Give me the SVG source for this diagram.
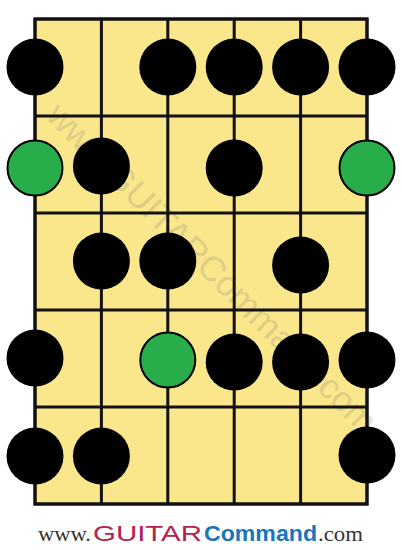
<svg xmlns="http://www.w3.org/2000/svg" width="402" height="550" viewBox="0 0 402 550">
<style>
.board{fill:#FAE78B;stroke:#111;stroke-width:3}
.ln{stroke:#111;stroke-width:3;fill:none}
.blk{fill:#000}
.grn{fill:#27AE4A;stroke:#000;stroke-width:2}
.wm{font-family:"Liberation Sans",Arial,sans-serif;font-size:35px;fill:#7a7a7a;opacity:0.22}
.ser{font-family:"Liberation Serif","Times New Roman",serif;font-size:22px;fill:#333}
.gt{font-family:"Liberation Sans",Arial,sans-serif;font-size:22px;fill:#B5234D}
.cm{font-family:"Liberation Sans",Arial,sans-serif;font-size:22px;font-weight:bold;fill:#1A75BB}
</style>
<rect width="402" height="550" fill="#fff"/>
<g id="board">
<rect class="board" x="35" y="19" width="332" height="485"/>
<text class="wm" transform="translate(212,268) rotate(45)" x="0" y="12" text-anchor="middle" textLength="450" lengthAdjust="spacingAndGlyphs">www.GUITARCommand.com</text>
</g>
<g id="grid">
<path class="ln" d="M101.4 19V504M167.8 19V504M234.2 19V504M300.6 19V504M35 116H367M35 213H367M35 310H367M35 407H367"/>
<rect class="ln" x="35" y="19" width="332" height="485"/>
</g>
<g id="notes">
<g id="r1">
<circle class="blk" cx="35" cy="67" r="28.5"/>
<circle class="blk" cx="167.8" cy="67" r="28.5"/>
<circle class="blk" cx="234.2" cy="67" r="28.5"/>
<circle class="blk" cx="300.6" cy="67" r="28.5"/>
<circle class="blk" cx="367" cy="67" r="28.5"/>
</g>
<g id="r2">
<circle class="grn" cx="35" cy="168" r="27.5"/>
<circle class="blk" cx="101.4" cy="166" r="28.5"/>
<circle class="blk" cx="234.2" cy="168" r="28.5"/>
<circle class="grn" cx="367" cy="168" r="27.5"/>
</g>
<g id="r3">
<circle class="blk" cx="101.4" cy="261" r="28.5"/>
<circle class="blk" cx="167.8" cy="261" r="28.5"/>
<circle class="blk" cx="300.6" cy="265" r="28.5"/>
</g>
<g id="r4">
<circle class="blk" cx="35" cy="358" r="28.5"/>
<circle class="grn" cx="167.8" cy="360" r="27.5"/>
<circle class="blk" cx="234.2" cy="362" r="28.5"/>
<circle class="blk" cx="300.6" cy="362" r="28.5"/>
<circle class="blk" cx="367" cy="360" r="28.5"/>
</g>
<g id="r5">
<circle class="blk" cx="35" cy="456" r="28.5"/>
<circle class="blk" cx="101.4" cy="456" r="28.5"/>
<circle class="blk" cx="367" cy="455" r="28.5"/>
</g>
</g>
<g id="footer">
<text class="ser" x="38" y="541" textLength="53" lengthAdjust="spacingAndGlyphs">www.</text>
<text class="gt" x="93" y="541" textLength="109" lengthAdjust="spacingAndGlyphs">GUITAR</text>
<text class="cm" x="204" y="541" textLength="113" lengthAdjust="spacingAndGlyphs">Command</text>
<text class="ser" x="318" y="541" textLength="45" lengthAdjust="spacingAndGlyphs">.com</text>
</g>
</svg>
